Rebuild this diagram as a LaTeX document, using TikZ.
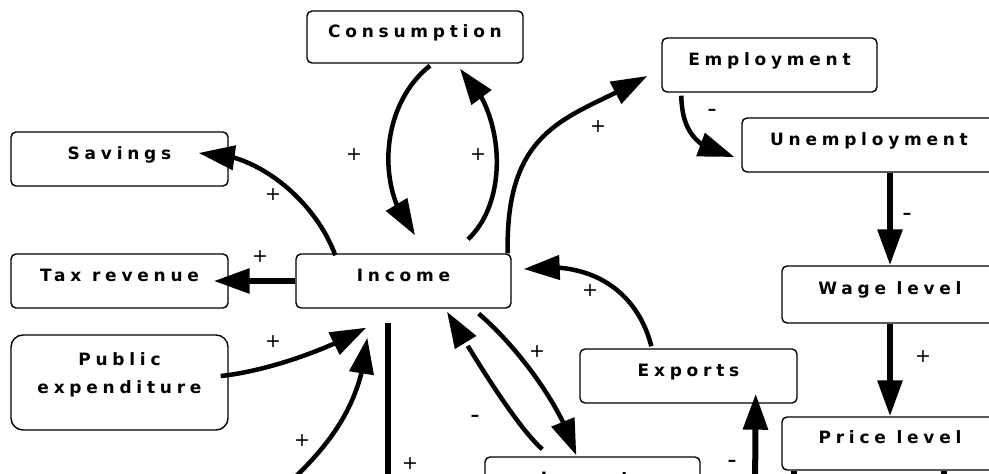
\documentclass[tikz,border=0pt]{standalone}
\usepackage{fontspec}
\newfontfamily\boxfont[LetterSpace=28]{DejaVu Sans}
\newfontfamily\signfont{DejaVu Sans}
\usetikzlibrary{arrows.meta,bending,calc}

\begin{document}
\begin{tikzpicture}[x=1pt,y=-1pt,
  boxbase/.style={draw, line width=1.4pt, rounded corners=5pt, inner sep=0pt,
    minimum width=216pt, font=\boxfont\bfseries\fontsize{17pt}{28pt}\selectfont},
  box/.style={boxbase, text height=27pt, text depth=27pt},
  arr/.style={line width=4.5pt, -{Triangle[length=36pt,width=24pt]}},
  bararr/.style={line width=6pt, -{Triangle[length=36pt,width=24pt]}},
  barline/.style={line width=6pt},
  signlbl/.style={font=\signfont\fontsize{19pt}{19pt}\selectfont, inner sep=0pt},
  minuslbl/.style={font=\signfont\fontsize{26pt}{26pt}\selectfont, inner sep=0pt},
]
\clip (0,0) rectangle (989,474);

% boxes
\node[box, text height=26pt, text depth=26pt] (cons) at (415,37) {Consumption};
\node[box, minimum width=215pt] (emp) at (769.5,65) {Employment};
\node[box, minimum width=217pt] (sav) at (119.5,159) {Savings};
\node[box, minimum width=254pt] (unemp) at (869,145) {Unemployment};
\node[box, minimum width=217pt] (tax) at (119.5,281) {Tax revenue};
\node[box, minimum width=215pt] (inc) at (403.5,281) {Income};
\node[box, text height=28.5pt, text depth=28.5pt] (wage) at (890,294.5) {Wage level};
\node[box, minimum width=217pt] (exp) at (688.5,376) {Exports};
\node[box, text height=26.5pt, text depth=26.5pt] (price) at (890,443.5) {Price level};
\node[box, minimum width=215pt] (imp) at (592.5,484) {Imports};
\node[boxbase, minimum width=217pt, minimum height=95pt, rounded corners=12pt] (pub) at (119.5,382.5) {};
\node[font=\boxfont\bfseries\fontsize{17pt}{28pt}\selectfont, align=center, inner sep=0pt]
  (pubtext) at (119.5,375) {Public\\expenditure};

% free ends below the visible part
\coordinate (lowleft) at (288,484);
\coordinate (lowmid) at (388,495);
\coordinate (lowexp) at (755,495);

% connectors
\draw[arr] ($(cons.south)+(15,2)$) .. controls (380,105) and (375,190) .. ($(inc.north)+(11.5,-18)$);
\draw[arr] ($(inc.north)+(64.5,-14)$) .. controls (510,200) and (505,110) .. ($(cons.south)+(45,5)$);
\draw[arr] ($(inc.north west)+(40,2)$) .. controls (315,200) and (255,150) .. ($(sav.east)+(-30,-6)$);
\draw[bararr] (inc.west) -- ($(tax.east)+(-15,0)$);
\draw[arr] ($(pub.east)+(-8,-6.5)$) .. controls (260,372) and (319,354) .. ($(inc.south west)+(71,19)$);
\draw[arr] (lowleft) .. controls (335,440) and (362,400) .. ($(inc.south west)+(72,29)$);
\draw[barline] ($(inc.south)+(-15.5,14)$) -- (lowmid);
\draw[arr] ($(inc.north east)+(-4,0)$) .. controls (505,120) and (576,118) .. ($(emp.west)+(-14,11)$);
\draw[arr] ($(emp.south west)+(20,3)$) .. controls (682,135) and (700,150) .. ($(unemp.west)+(-7,12)$);
\draw[bararr] (unemp.south -| wage.north) -- (wage.north);
\draw[bararr] (wage.south) -- (price.north);
\draw[arr] ($(exp.north west)+(72,-2)$) .. controls (640,300) and (600,258) .. ($(inc.east)+(12,-12)$);
\draw[arr] ($(inc.south east)+(-33,5)$) .. controls (510,340) and (560,400) .. ($(imp.north west)+(92,-1)$);
\draw[arr] ($(imp.north west)+(58,-7)$) .. controls (515,425) and (470,350) .. ($(inc.south)+(43.5,3)$);
\draw[bararr] (lowexp) -- ($(exp.south east)+(-42,-10)$);
\draw[barline] ($(price.south west)+(13,0)$) -- ++(0,20);
\draw[barline] ($(price.south west)+(163,0)$) -- ++(0,20);

% polarity signs
\node[signlbl] (p1) at (354,155) {+};
\node[signlbl] (p2) at (478,155) {+};
\node[signlbl] (p3) at (273,195) {+};
\node[signlbl] (p4) at (260,257) {+};
\node[signlbl] (p5) at (273,342) {+};
\node[signlbl] (p6) at (302,441) {+};
\node[signlbl] (p7) at (410,464) {+};
\node[signlbl] (p8) at (598,127) {+};
\node[signlbl] (p9) at (590,291) {+};
\node[signlbl] (p10) at (537,352) {+};
\node[signlbl] (p11) at (923,357) {+};
\node[minuslbl] (m1) at (712,113) {-};
\node[minuslbl] (m2) at (907,217) {-};
\node[minuslbl] (m3) at (475,419) {-};
\node[minuslbl] (m4) at (732,464) {-};
\end{tikzpicture}
\end{document}
